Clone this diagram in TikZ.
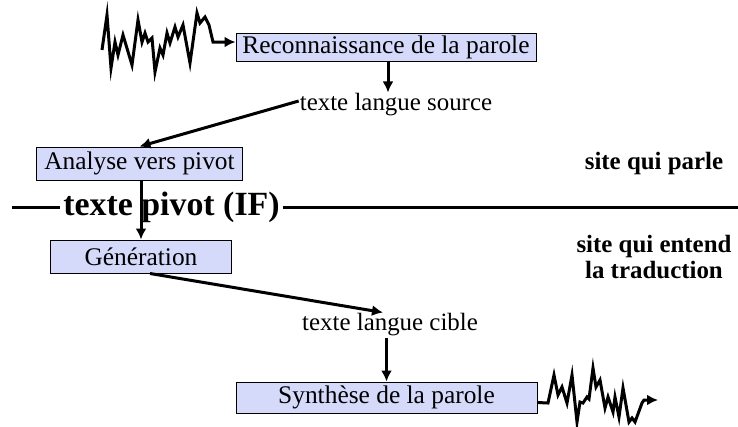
\documentclass[tikz,border=0pt]{standalone}
\usepackage{fontspec}
\setmainfont{Liberation Serif}
\usetikzlibrary{arrows.meta}
\definecolor{fondboite}{RGB}{213,217,250}
\tikzset{
  boite/.style={draw, fill=fondboite, line width=1bp, inner sep=0pt, font=\fontsize{25.5}{30}\selectfont},
  texte/.style={inner sep=1bp, font=\fontsize{25}{30}\selectfont},
  gras/.style={align=center, inner sep=0pt, font=\fontsize{25}{27}\selectfont\bfseries},
  fleche/.style={->, line width=3bp},
  onde/.style={line width=3bp, line join=miter},
}

\begin{document}
\begin{tikzpicture}[x=1bp, y=-1bp, >={Latex[length=11bp,width=11bp]}]
\useasboundingbox (0,0) rectangle (738,426);

% les modules
\node[boite, minimum width=300bp, minimum height=28bp] (reco) at (386,47) {Reconnaissance de la parole};
\node[texte] (source) at (396,105) {texte langue source};
\node[boite, minimum width=205bp, minimum height=33bp] (analyse) at (139.5,163.5) {Analyse vers pivot};
\node[inner sep=3bp, font=\fontsize{34}{40}\selectfont\bfseries, anchor=base] (pivot) at (171.5,215) {texte pivot (IF)};
\node[boite, minimum width=180bp, minimum height=33bp] (gen) at (141,256.5) {Génération};
\node[texte] (cible) at (390,325) {texte langue cible};
\node[boite, minimum width=301bp, minimum height=31bp] (synth) at (386.5,397.5) {Synthèse de la parole};

% les deux sites
\node[gras] (parle) at (654,164) {site qui parle};
\node[gras] (entend) at (654,257) {site qui entend\\la traduction};

% la frontiere entre les sites
\coordinate (regle-g) at (12,207);
\coordinate (regle-d) at (738,207);
\draw[line width=3bp] (regle-g) -- (regle-g -| pivot.west);
\draw[line width=3bp] (pivot.east |- regle-d) -- (regle-d);

% signal d'entree
\coordinate (entree) at (102,50);
\draw[onde, ->] (entree) -- (107,15) -- (111,68) -- (115,42) -- (118,55) -- (123,35) -- (132,65)
  -- (138,20) -- (142,42) -- (145,33) -- (148,42) -- (152,38) -- (155,72) -- (160,48) -- (163,55)
  -- (167,33) -- (170,43) -- (175,27) -- (178,37) -- (183,25) -- (190,63) -- (197,13) -- (200,23)
  -- (205,17) -- (209,25) -- (213,42) -- ([yshift=5bp]reco.west);

% enchainement
\draw[fleche] ([xshift=2bp]reco.south) -- ([xshift=2bp]reco.south |- source.north);
\draw[fleche] ([yshift=4bp]source.west) -- (analyse.north);
\draw[fleche] (gen.north |- analyse.south) -- (gen.north);
\draw[fleche] ([xshift=9bp]gen.south) -- ([xshift=-7bp]cible.north);
\draw[fleche] (synth.north |- cible.south) -- (synth.north);

% signal de sortie
\draw[onde, ->] ([yshift=-5bp]synth.east) -- (548,403) -- (554,375) -- (558,395) -- (562,387) -- (567,403)
  -- (572,375) -- (577,422) -- (580,402) -- (583,403) -- (587,397) -- (589,399) -- (593,368)
  -- (596,387) -- (600,380) -- (605,408) -- (608,397) -- (613,412) -- (615,397) -- (619,417)
  -- (623,388) -- (629,422) -- (632,418) -- (635,422) -- (642,403) -- (644,400) -- (658,400);

\end{tikzpicture}
\end{document}
